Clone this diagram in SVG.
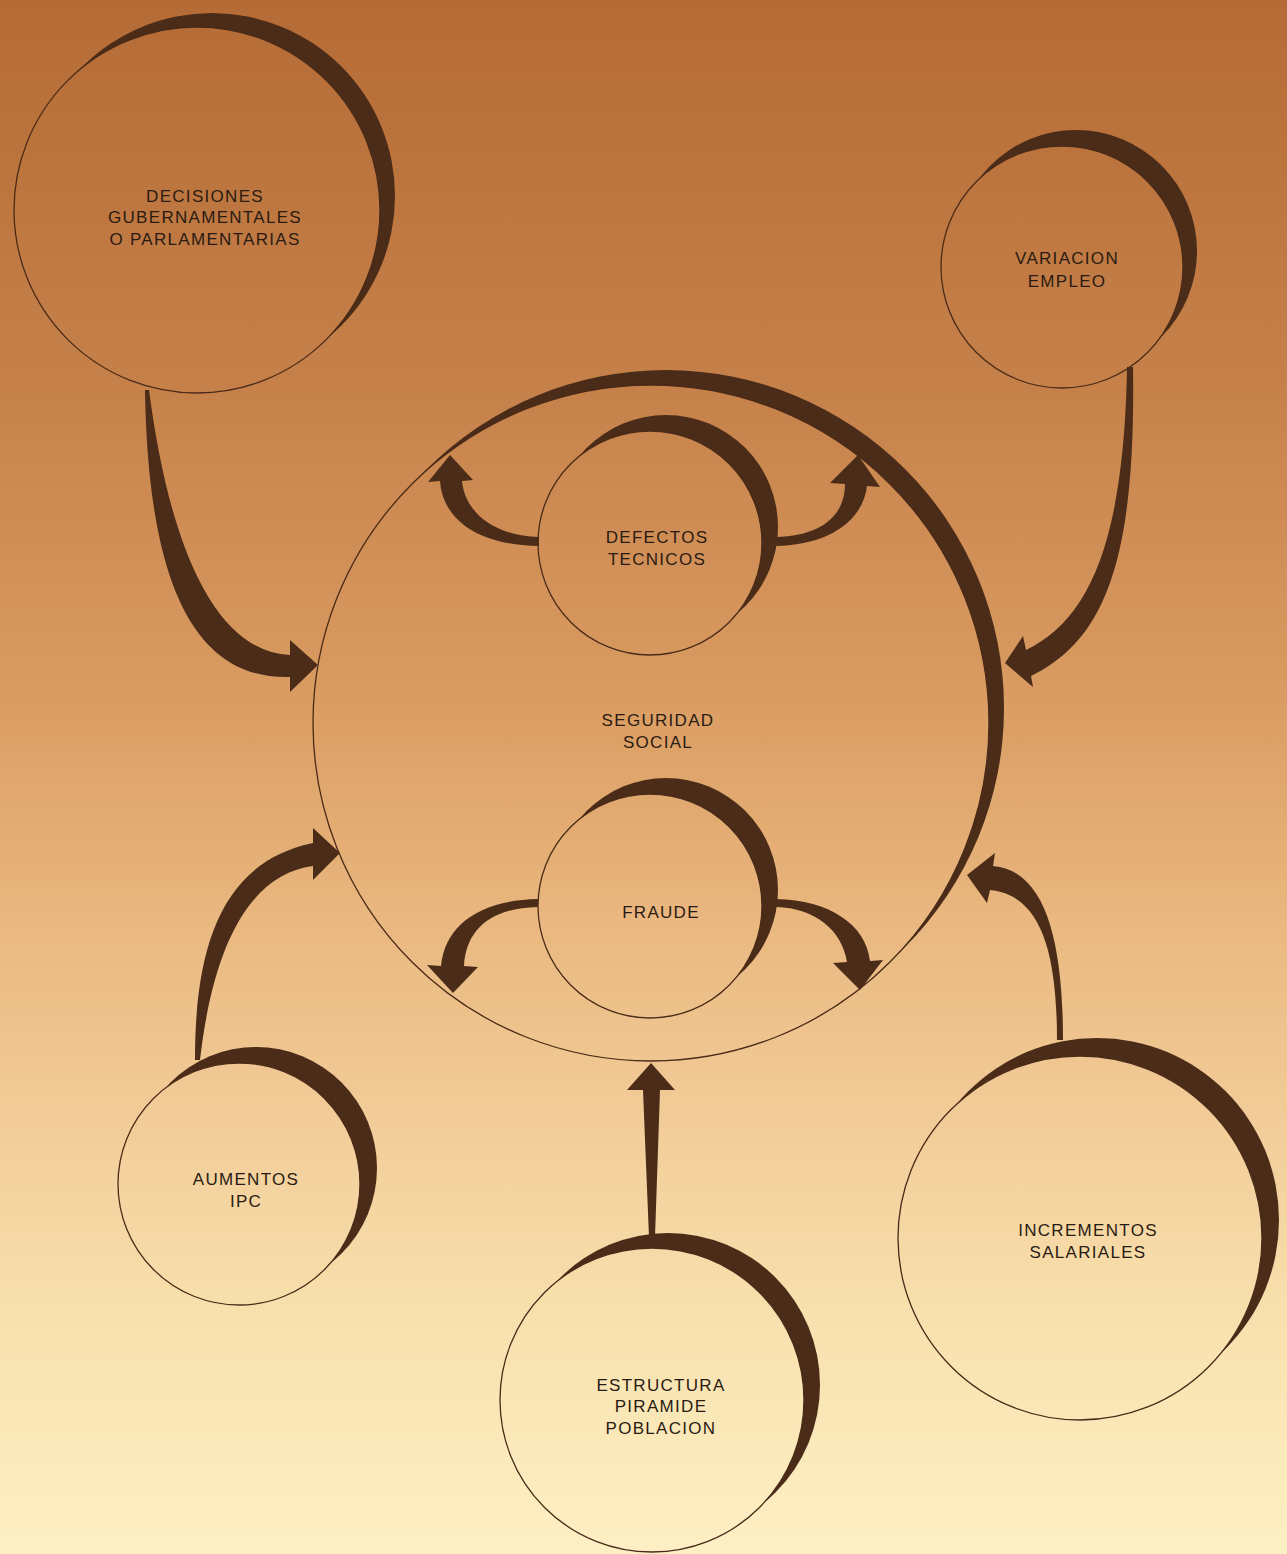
<svg xmlns="http://www.w3.org/2000/svg" width="1287" height="1554" viewBox="0 0 1287 1554">
  <defs>
    <linearGradient id="bg" gradientUnits="userSpaceOnUse" x1="0" y1="0" x2="0" y2="1554">
      <stop offset="0" stop-color="#b56b35"/>
      <stop offset="0.25" stop-color="#c6814a"/>
      <stop offset="0.45" stop-color="#da9c62"/>
      <stop offset="0.6" stop-color="#eab981"/>
      <stop offset="0.72" stop-color="#f2cc98"/>
      <stop offset="0.85" stop-color="#f8e1ae"/>
      <stop offset="1" stop-color="#fdf0c4"/>
    </linearGradient>
    <style>
      .shade { fill: #4b2c18; }
      .node { fill: url(#bg); stroke: #4a2b18; stroke-width: 1.3; }
      .arrow { fill: #4b2c18; stroke: none; }
      text { font-family: "Liberation Sans", Arial, sans-serif; font-size: 17px; letter-spacing: 1.3px; fill: #2a1b12; text-anchor: middle; }
    </style>
  </defs>

  <rect x="0" y="0" width="1287" height="1554" fill="url(#bg)"/>

  <g id="seguridad-social">
    <circle class="shade" cx="666" cy="708" r="338"/>
    <circle class="node" cx="651" cy="723" r="338"/>
    <text x="658" y="726">SEGURIDAD</text>
    <text x="658" y="748">SOCIAL</text>
  </g>

  <g id="defectos-tecnicos">
    <circle class="shade" cx="666" cy="527" r="112"/>
    <circle class="node" cx="650" cy="543" r="112"/>
    <text x="657" y="543">DEFECTOS</text>
    <text x="657" y="565">TECNICOS</text>
  </g>

  <g id="fraude">
    <circle class="shade" cx="666" cy="890" r="112"/>
    <circle class="node" cx="650" cy="906" r="112"/>
    <text x="661" y="918">FRAUDE</text>
  </g>

  <g id="decisiones">
    <circle class="shade" cx="212" cy="196" r="183"/>
    <circle class="node" cx="197" cy="210" r="183"/>
    <text x="205" y="202">DECISIONES</text>
    <text x="205" y="223">GUBERNAMENTALES</text>
    <text x="205" y="245">O PARLAMENTARIAS</text>
  </g>

  <g id="variacion-empleo">
    <circle class="shade" cx="1076" cy="251" r="121"/>
    <circle class="node" cx="1062" cy="267" r="121"/>
    <text x="1067" y="264">VARIACION</text>
    <text x="1067" y="287">EMPLEO</text>
  </g>

  <g id="aumentos-ipc">
    <circle class="shade" cx="256" cy="1168" r="121"/>
    <circle class="node" cx="239" cy="1184" r="121"/>
    <text x="246" y="1185">AUMENTOS</text>
    <text x="246" y="1207">IPC</text>
  </g>

  <g id="estructura-piramide">
    <circle class="shade" cx="668" cy="1385" r="152"/>
    <circle class="node" cx="652" cy="1400" r="152"/>
    <text x="661" y="1391">ESTRUCTURA</text>
    <text x="661" y="1412">PIRAMIDE</text>
    <text x="661" y="1434">POBLACION</text>
  </g>

  <g id="incrementos-salariales">
    <circle class="shade" cx="1097" cy="1220" r="182"/>
    <circle class="node" cx="1080" cy="1238" r="182"/>
    <text x="1088" y="1236">INCREMENTOS</text>
    <text x="1088" y="1258">SALARIALES</text>
  </g>

  <g id="connectors">
    <path class="arrow" d="M145,390 C148,585 195,680 290,677 L290,692 L318,665 L290,640 L290,655 C222,652 172,565 149,390 Z"/>
    <path class="arrow" d="M1127,367 L1133,367 C1136,560 1105,640 1031,676 L1033,687 L1005,663 L1023,636 L1026,650 C1088,620 1124,545 1127,367 Z"/>
    <path class="arrow" d="M428,482 L450,455 L473,480 L462,481 C465,513 495,536 539,537 L539,546 C478,545 443,520 440,481 Z"/>
    <path class="arrow" d="M830,483 L858,455 L880,487 L867,486 C863,520 830,545 776,546 L776,537 C822,536 845,515 845,484 Z"/>
    <path class="arrow" d="M538,899 L538,907 C490,908 466,930 464,966 L478,967 L453,993 L427,965 L441,966 C445,925 480,900 538,899 Z"/>
    <path class="arrow" d="M776,899 C830,900 866,925 870,961 L883,960 L860,990 L833,963 L847,962 C842,930 815,908 776,907 Z"/>
    <path class="arrow" d="M195,1060 C195,945 222,862 313,843 L313,828 L340,853 L313,880 L313,866 C245,875 212,955 200,1060 Z"/>
    <path class="arrow" d="M649,1237 L643,1090 L627,1090 L651,1063 L675,1090 L660,1090 L655,1237 Z"/>
    <path class="arrow" d="M1057,1040 C1057,950 1040,895 990,890 L987,903 L967,875 L995,853 L993,866 C1045,870 1063,940 1063,1040 Z"/>
  </g>
</svg>
